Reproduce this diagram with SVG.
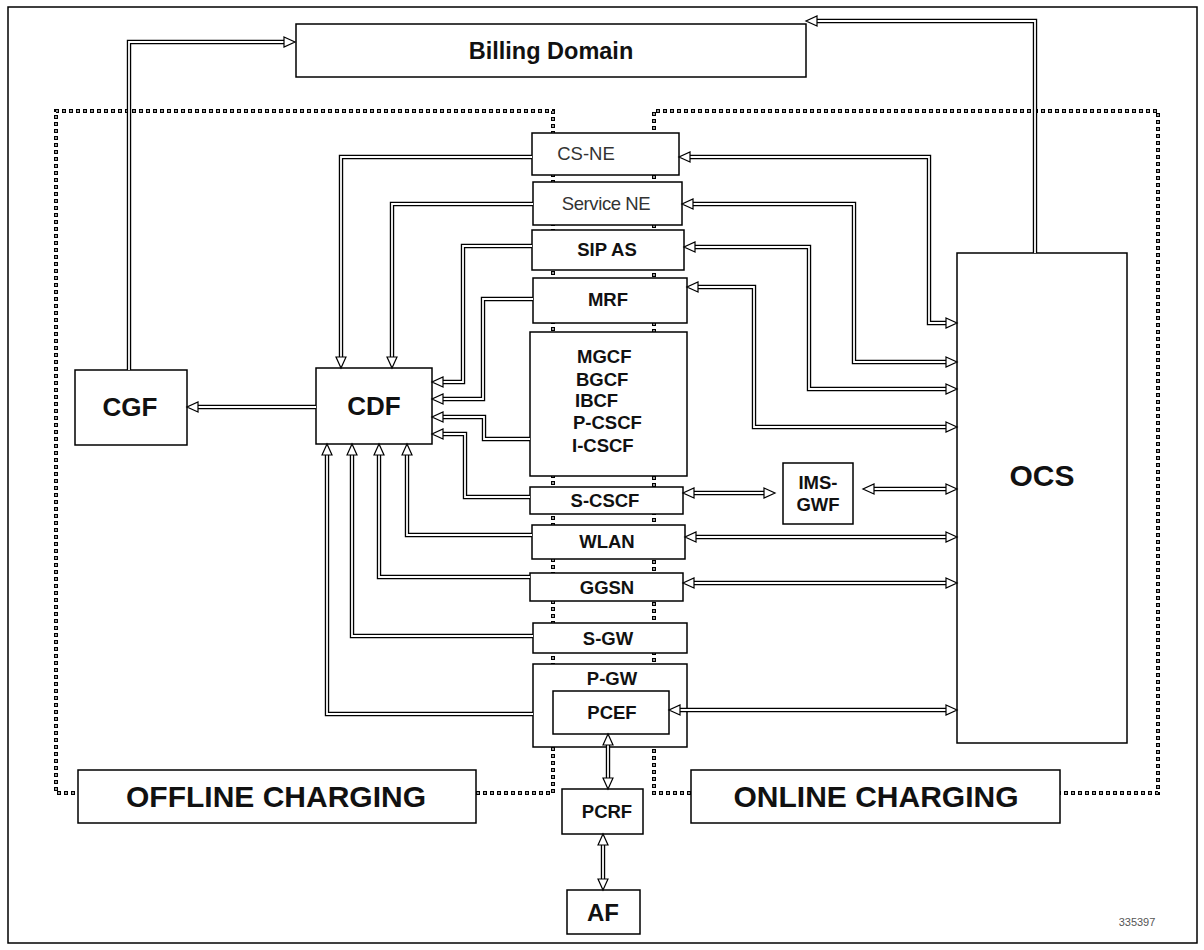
<svg xmlns="http://www.w3.org/2000/svg" width="1204" height="950" viewBox="0 0 1204 950">
<defs>
<marker id="a" viewBox="-1 -1 13 12" markerWidth="13" markerHeight="12" refX="0" refY="5" orient="auto-start-reverse" markerUnits="userSpaceOnUse" overflow="visible">
<path d="M0,0 L11,5 L0,10 z" fill="#fff" stroke="#000" stroke-width="1.2"/>
</marker>
</defs>
<style>
.box{fill:#fff;stroke:#000;stroke-width:1.5}
.o{fill:none;stroke:#000;stroke-width:4.4}
.i{fill:none;stroke:#fff;stroke-width:1.8}
.d1{fill:none;stroke:#000;stroke-width:4;stroke-dasharray:4 3}
.d2{fill:none;stroke:#fff;stroke-width:1.6;stroke-dasharray:1.6 5.4;stroke-dashoffset:-1.2}
text{font-family:"Liberation Sans",Arial,sans-serif;font-weight:bold;fill:#111;text-anchor:middle}
.n{font-weight:normal;fill:#333}
.s{font-size:18.5px}
.b{font-size:26px}
.xl{font-size:30px}
</style>
<rect x="0" y="0" width="1204" height="950" fill="#fff"/>
<rect x="8" y="7" width="1189" height="936" fill="none" stroke="#000" stroke-width="1.5"/>

<g id="boundaries">
<path class="d1" d="M553,793 V111 H56 V793 H78"/>
<path class="d2" d="M553,793 V111 H56 V793 H78"/>
<path class="d1" d="M476,793 H553"/>
<path class="d2" d="M476,793 H553"/>
<path class="d1" d="M691,793 H654 V111 H1158 V793 H1060"/>
<path class="d2" d="M691,793 H654 V111 H1158 V793 H1060"/>
</g>

<g id="billing"><rect class="box" x="296" y="24" width="510" height="53"/><text x="551" y="59" style="font-size:23.5px">Billing Domain</text></g>
<g id="cgf"><rect class="box" x="75" y="370" width="112" height="75"/><text class="b" x="130" y="416">CGF</text></g>
<g id="cdf"><rect class="box" x="316" y="368" width="116" height="76"/><text class="b" x="374" y="415">CDF</text></g>
<g id="ocs"><rect class="box" x="957" y="253" width="170" height="490"/><text class="xl" x="1042" y="486">OCS</text></g>
<g id="cs-ne"><rect class="box" x="532" y="133" width="147" height="42"/><text class="n" x="586" y="160" style="font-size:18.5px">CS-NE</text></g>
<g id="service-ne"><rect class="box" x="533" y="182" width="149" height="43"/><text class="n" x="606" y="210" style="font-size:18.5px;letter-spacing:-0.4px">Service NE</text></g>
<g id="sip-as"><rect class="box" x="532" y="230" width="152" height="40"/><text class="s" x="607" y="256">SIP AS</text></g>
<g id="mrf"><rect class="box" x="533" y="278" width="154" height="45"/><text class="s" x="608" y="306">MRF</text></g>
<g id="mgcf"><rect class="box" x="530" y="332" width="157" height="144"/>
<text class="s" x="577" y="363" style="text-anchor:start">MGCF</text>
<text class="s" x="576" y="386" style="text-anchor:start">BGCF</text>
<text class="s" x="575" y="407" style="text-anchor:start">IBCF</text>
<text class="s" x="573" y="429" style="text-anchor:start">P-CSCF</text>
<text class="s" x="572" y="452" style="text-anchor:start">I-CSCF</text></g>
<g id="s-cscf"><rect class="box" x="530" y="487" width="153" height="27"/><text class="s" x="605" y="507">S-CSCF</text></g>
<g id="ims-gwf"><rect class="box" x="783" y="463" width="70" height="61"/><text class="s" x="818" y="489">IMS-</text><text class="s" x="818" y="511">GWF</text></g>
<g id="wlan"><rect class="box" x="532" y="525" width="153" height="34"/><text class="s" x="607" y="548">WLAN</text></g>
<g id="ggsn"><rect class="box" x="530" y="573" width="153" height="28"/><text class="s" x="607" y="594">GGSN</text></g>
<g id="s-gw"><rect class="box" x="533" y="623" width="154" height="30"/><text class="s" x="608" y="645">S-GW</text></g>
<g id="p-gw"><rect class="box" x="533" y="664" width="154" height="83"/><text class="s" x="612" y="685">P-GW</text></g>
<g id="pcef"><rect class="box" x="553" y="691" width="116" height="43"/><text class="s" x="612" y="719">PCEF</text></g>
<g id="pcrf"><rect class="box" x="562" y="789" width="81" height="45"/><text class="s" x="607" y="818">PCRF</text></g>
<g id="af"><rect class="box" x="567" y="890" width="73" height="44"/><text x="603" y="921" style="font-size:24px">AF</text></g>
<g id="offline"><rect class="box" x="78" y="770" width="398" height="53"/><text class="xl" x="276" y="807">OFFLINE CHARGING</text></g>
<g id="online"><rect class="box" x="691" y="770" width="369" height="53"/><text class="xl" x="876" y="807">ONLINE CHARGING</text></g>
<text class="n" x="1137" y="926" style="font-size:11px;fill:#555">335397</text>

<g id="connectors">
<path class="o" d="M129,370 V42 H284"/><path class="i" d="M129,370 V42 H284" marker-end="url(#a)"/>
<path class="o" d="M1035,253 V21 H817"/><path class="i" d="M1035,253 V21 H817" marker-end="url(#a)"/>
<path class="o" d="M316,407 H198"/><path class="i" d="M316,407 H198" marker-end="url(#a)"/>
<path class="o" d="M532,157 H341 V357"/><path class="i" d="M532,157 H341 V357" marker-end="url(#a)"/>
<path class="o" d="M533,204 H392 V357"/><path class="i" d="M533,204 H392 V357" marker-end="url(#a)"/>
<path class="o" d="M532,246 H463 V382 H443"/><path class="i" d="M532,246 H463 V382 H443" marker-end="url(#a)"/>
<path class="o" d="M533,299 H483 V399 H443"/><path class="i" d="M533,299 H483 V399 H443" marker-end="url(#a)"/>
<path class="o" d="M530,439 H484 V417 H443"/><path class="i" d="M530,439 H484 V417 H443" marker-end="url(#a)"/>
<path class="o" d="M530,497 H465 V434 H443"/><path class="i" d="M530,497 H465 V434 H443" marker-end="url(#a)"/>
<path class="o" d="M532,535 H407 V455"/><path class="i" d="M532,535 H407 V455" marker-end="url(#a)"/>
<path class="o" d="M530,577 H379 V455"/><path class="i" d="M530,577 H379 V455" marker-end="url(#a)"/>
<path class="o" d="M533,636 H352 V455"/><path class="i" d="M533,636 H352 V455" marker-end="url(#a)"/>
<path class="o" d="M533,714 H327 V455"/><path class="i" d="M533,714 H327 V455" marker-end="url(#a)"/>
<path class="o" d="M690,157 H929 V323 H946"/><path class="i" d="M690,157 H929 V323 H946" marker-start="url(#a)" marker-end="url(#a)"/>
<path class="o" d="M693,204 H854 V362 H946"/><path class="i" d="M693,204 H854 V362 H946" marker-start="url(#a)" marker-end="url(#a)"/>
<path class="o" d="M695,247 H809 V389 H946"/><path class="i" d="M695,247 H809 V389 H946" marker-start="url(#a)" marker-end="url(#a)"/>
<path class="o" d="M698,287 H754 V427 H946"/><path class="i" d="M698,287 H754 V427 H946" marker-start="url(#a)" marker-end="url(#a)"/>
<path class="o" d="M694,493 H764"/><path class="i" d="M694,493 H764" marker-start="url(#a)" marker-end="url(#a)"/>
<path class="o" d="M874,489 H946"/><path class="i" d="M874,489 H946" marker-start="url(#a)" marker-end="url(#a)"/>
<path class="o" d="M696,537 H946"/><path class="i" d="M696,537 H946" marker-start="url(#a)" marker-end="url(#a)"/>
<path class="o" d="M694,583 H946"/><path class="i" d="M694,583 H946" marker-start="url(#a)" marker-end="url(#a)"/>
<path class="o" d="M680,710 H946"/><path class="i" d="M680,710 H946" marker-start="url(#a)" marker-end="url(#a)"/>
<path class="o" d="M608,745 V778"/><path class="i" d="M608,745 V778" marker-start="url(#a)" marker-end="url(#a)"/>
<path class="o" d="M603,845 V879"/><path class="i" d="M603,845 V879" marker-start="url(#a)" marker-end="url(#a)"/>
</g>
</svg>
